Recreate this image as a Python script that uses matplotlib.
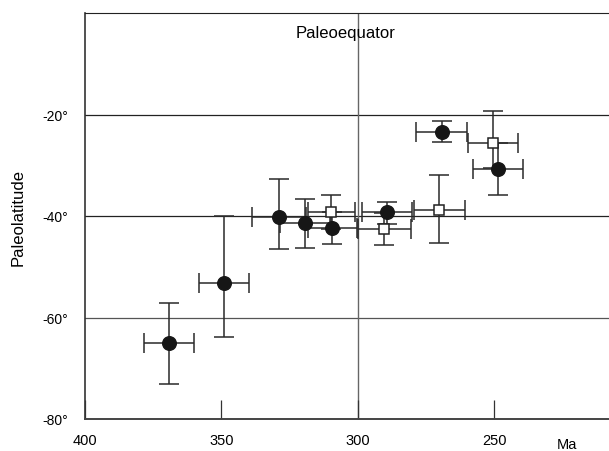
import matplotlib
matplotlib.use("Agg")
import matplotlib.pyplot as plt
import matplotlib.transforms as mtransforms

plt.rcParams['font.family'] = ['Liberation Sans', 'DejaVu Sans']

#Filled circles
circ_age = [369.2, 349.1, 328.9, 319.4, 309.4, 289.3, 269.3, 248.8]
circ_lat = [-65.1, -53.2, -40.2, -41.3, -42.4, -39.3, -23.4, -30.7]
circ_age_err = [9.2, 9.2, 10.0, 9.0, 9.0, 9.2, 9.3, 9.2]
circ_lat_lo = [8.0, 10.6, 6.4, 5.1, 3.2, 2.3, 2.0, 5.2]
circ_lat_hi = [8.0, 13.2, 7.4, 4.7, 3.2, 2.1, 2.1, 5.1]

#Open squares
sq_age = [309.7, 290.4, 270.2, 250.6]
sq_lat = [-39.2, -42.6, -38.9, -25.6]
sq_age_err = [8.5, 9.7, 9.3, 9.2]
sq_lat_lo = [3.3, 3.2, 6.5, 5.0]
sq_lat_hi = [3.3, 3.2, 7.0, 6.3]

lat_ticks = [-80, -60, -40, -20]
lat_labels = ["-80°", "-60°", "-40°", "-20°"]
age_ticks = [400, 350, 300, 250]
age_labels = ["400", "350", "300", "250"]

fig = plt.figure(figsize=(6.09, 4.52), dpi=100)
ax = fig.add_axes([85/609, 32/452, 524/609, 406/452])

#reference lines
for lat, col in [(-20, "#222222"), (-40, "#222222"), (-60, "#555555")]:
    ax.axhline(lat, color=col, lw=0.9, zorder=1)
ax.axvline(300, color="#666666", lw=1.0, zorder=1)

ax.errorbar(circ_age, circ_lat, xerr=circ_age_err, yerr=[circ_lat_lo, circ_lat_hi],
            fmt='none', ecolor="#2a2a2a", elinewidth=1.1, capsize=7, capthick=1.1, zorder=2)
ax.errorbar(sq_age, sq_lat, xerr=sq_age_err, yerr=[sq_lat_lo, sq_lat_hi],
            fmt='none', ecolor="#2a2a2a", elinewidth=1.1, capsize=7, capthick=1.1, zorder=2)
ax.plot(circ_age, circ_lat, 'o', ms=9.8, color="#161616", mec="#161616", ls='none', zorder=3)
ax.plot(sq_age, sq_lat, 's', ms=7.5, mfc="white", mec="#222222", mew=1.1, ls='none', zorder=4)

ax.set_xlim(400, 208)
ax.set_ylim(-80, 0)

ax.set_yticks(lat_ticks)
ax.set_yticklabels(lat_labels, fontsize=10)
ax.set_xticks(age_ticks)
ax.set_xticklabels(age_labels, fontsize=10.5)
ax.tick_params(axis='y', length=0, pad=12)
ax.tick_params(axis='x', direction='in', length=14, width=0.9, color="#333333", pad=10)

ax.spines['right'].set_visible(False)
ax.spines['top'].set_color("#222222")
ax.spines['left'].set_color("#333333")
ax.spines['bottom'].set_color("#444444")
ax.spines['left'].set_linewidth(1.2)
ax.spines['bottom'].set_linewidth(1.4)

ax.set_ylabel("Paleolatitude", fontsize=12, labelpad=12)
ax.text(304.4, -3.9, "Paleoequator", fontsize=12, ha='center', va='center')

trans = mtransforms.blended_transform_factory(ax.transData, ax.transAxes)
ax.text(223.5, -0.062, "Ma", fontsize=10.5, ha='center', va='center', transform=trans)

fig.savefig("out.png", dpi=100)
